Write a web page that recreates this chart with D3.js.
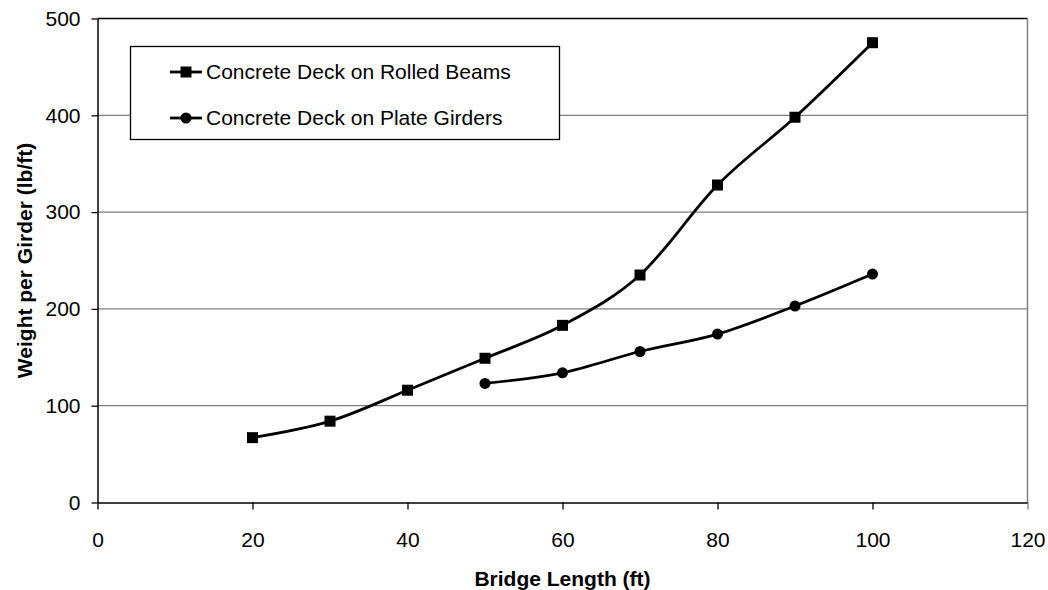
<!DOCTYPE html>
<html>
<head>
<meta charset="utf-8">
<script src="https://cdn.jsdelivr.net/npm/d3@7"></script>
<style>
  html, body { margin: 0; padding: 0; background: #fff; }
  svg { display: block; font-family: "Liberation Sans", Arial, sans-serif; }
</style>
</head>
<body>
<svg id="chart" width="1048" height="590"></svg>
<script>
// ---- data ----
const rolledLengths = [20, 30, 40, 50, 60, 70, 80, 90, 100];
const rolledWeights = [67, 84, 116, 149, 183, 235, 328, 398, 475];
const plateLengths = [50, 60, 70, 80, 90, 100];
const plateWeights = [123, 134, 156, 174, 203, 236];
const seriesNames = ["Concrete Deck on Rolled Beams", "Concrete Deck on Plate Girders"];
const xTicks = [0, 20, 40, 60, 80, 100, 120];
const yTicks = [0, 100, 200, 300, 400, 500];
const xTitle = "Bridge Length (ft)";
const yTitle = "Weight per Girder (lb/ft)";

// ---- layout ----
const svg = d3.select("#chart");
const L = 97.5, R = 1027.5, T = 18.5, B = 502.5;
const x = d3.scaleLinear().domain([0, 120]).range([L, R]);
const y = d3.scaleLinear().domain([0, 500]).range([B, T]);
const fs = 21;

// gridlines
svg.append("g").selectAll("line").data(yTicks.filter(d => d > 0 && d < 500)).join("line")
  .attr("x1", L).attr("x2", R)
  .attr("y1", d => y(d)).attr("y2", d => y(d))
  .attr("stroke", "#808080").attr("stroke-width", 1.3);

// frame: top dark, right gray
svg.append("line").attr("x1", L).attr("x2", R).attr("y1", y(500)).attr("y2", y(500))
  .attr("stroke", "#000").attr("stroke-width", 1.5);
svg.append("line").attr("x1", R).attr("x2", R).attr("y1", T).attr("y2", B)
  .attr("stroke", "#808080").attr("stroke-width", 1.5);

// axes
const xAxis = d3.axisBottom(x).tickValues(xTicks).tickSizeInner(7).tickSizeOuter(0).tickPadding(23);
const yAxis = d3.axisLeft(y).tickValues(yTicks).tickSizeInner(6).tickSizeOuter(0).tickPadding(11);

const gx = svg.append("g").attr("transform", `translate(0,${B})`).call(xAxis);
const gy = svg.append("g").attr("transform", `translate(${L},0)`).call(yAxis);
[gx, gy].forEach(g => {
  g.select(".domain").attr("stroke", "#000").attr("stroke-width", 1.5);
  g.selectAll(".tick line").attr("stroke", "#000").attr("stroke-width", 1.3);
  g.selectAll(".tick text").attr("font-size", fs).attr("fill", "#000")
    .attr("font-family", "Liberation Sans, Arial, sans-serif");
});
gx.selectAll(".tick line").attr("stroke", d => d === 120 ? "#808080" : "#000");

// axis titles
svg.append("text").attr("x", (L + R) / 2).attr("y", 586)
  .attr("text-anchor", "middle").attr("font-size", fs).attr("font-weight", "bold").text(xTitle);
svg.append("text").attr("transform", `translate(32,${(T + B) / 2}) rotate(-90)`)
  .attr("text-anchor", "middle").attr("font-size", fs).attr("font-weight", "bold").text(yTitle);

// lines
const line = d3.line().x(d => x(d[0])).y(d => y(d[1])).curve(d3.curveCardinal.tension(0));
const rolled = rolledLengths.map((v, i) => [v, rolledWeights[i]]);
const plate = plateLengths.map((v, i) => [v, plateWeights[i]]);

svg.append("path").datum(rolled).attr("d", line)
  .attr("fill", "none").attr("stroke", "#000").attr("stroke-width", 2.8);
svg.append("path").datum(plate).attr("d", line)
  .attr("fill", "none").attr("stroke", "#000").attr("stroke-width", 2.8);

const sq = 11;
svg.append("g").selectAll("rect").data(rolled).join("rect")
  .attr("x", d => x(d[0]) - sq / 2).attr("y", d => y(d[1]) - sq / 2)
  .attr("width", sq).attr("height", sq).attr("fill", "#000");
svg.append("g").selectAll("circle").data(plate).join("circle")
  .attr("cx", d => x(d[0])).attr("cy", d => y(d[1])).attr("r", 5.5).attr("fill", "#000");

// legend
const lg = svg.append("g");
lg.append("rect").attr("x", 130.5).attr("y", 46.5).attr("width", 429).attr("height", 93)
  .attr("fill", "#fff").attr("stroke", "#000").attr("stroke-width", 1.3);
const rows = [72, 118];
rows.forEach((ry, i) => {
  lg.append("line").attr("x1", 170).attr("x2", 202).attr("y1", ry).attr("y2", ry)
    .attr("stroke", "#000").attr("stroke-width", 2.8);
  if (i === 0) {
    lg.append("rect").attr("x", 186 - sq / 2).attr("y", ry - sq / 2)
      .attr("width", sq).attr("height", sq).attr("fill", "#000");
  } else {
    lg.append("circle").attr("cx", 186).attr("cy", ry).attr("r", 5.5).attr("fill", "#000");
  }
  lg.append("text").attr("x", 206).attr("y", ry).attr("dy", "0.35em")
    .attr("font-size", fs).text(seriesNames[i]);
});
</script>
</body>
</html>
